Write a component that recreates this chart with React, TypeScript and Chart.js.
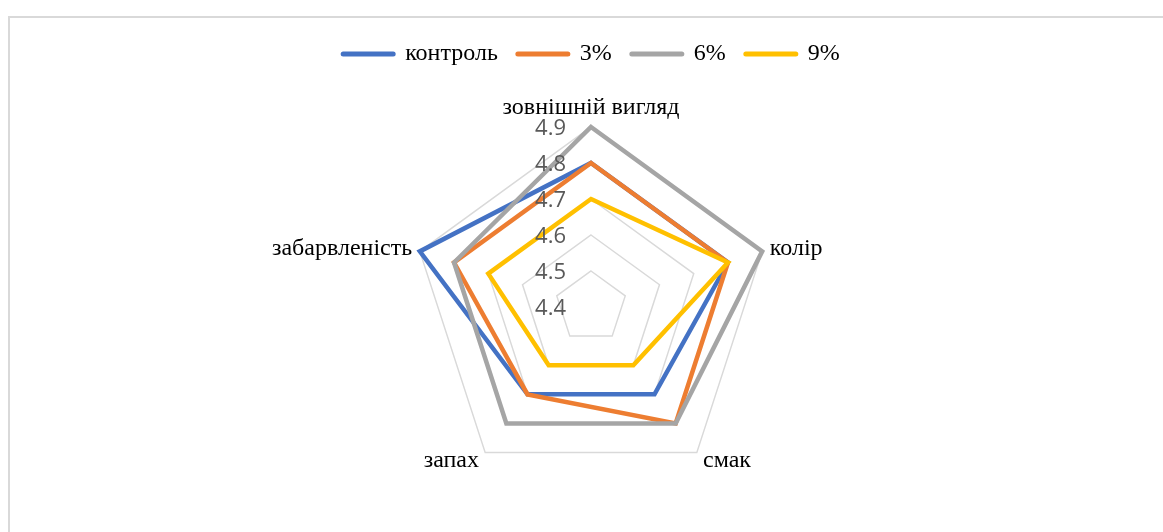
import React, { useEffect, useRef } from 'react';
import { Chart, registerables } from 'chart.js';

Chart.register(...registerables);

const CATEGORIES = ['зовнішній вигляд', 'колір', 'смак', 'запах', 'забарвленість'];
const SERIES_NAMES = ['контроль', '3%', '6%', '9%'];
const CONTROL = [4.8, 4.8, 4.7, 4.7, 4.9];
const P3 = [4.8, 4.8, 4.8, 4.7, 4.8];
const P6 = [4.9, 4.9, 4.8, 4.8, 4.8];
const P9 = [4.7, 4.8, 4.6, 4.6, 4.7];
const TICKS = [4.4, 4.5, 4.6, 4.7, 4.8, 4.9];
const COLORS = ['#4472C4', '#ED7D31', '#A5A5A5', '#FFC000'];

const SERIF = '"Liberation Serif", "Times New Roman", serif';
const SANS = '"Open Sans", "Liberation Sans", sans-serif';

const tickLabelPlugin = {
  id: 'tickLabelPlugin',
  afterDatasetsDraw(chart: any) {
    const s = chart.scales.r;
    const ctx = chart.ctx;
    ctx.save();
    ctx.font = `22px ${SANS}`;
    ctx.fillStyle = '#595959';
    ctx.textAlign = 'right';
    ctx.textBaseline = 'middle';
    TICKS.forEach((v) => {
      const d = s.getDistanceFromCenterForValue(v);
      ctx.fillText(v.toFixed(1), s.xCenter - 25, s.yCenter - d + 2);
    });
    ctx.restore();
  },
};

export default function App() {
  const ref = useRef<HTMLCanvasElement>(null);

  useEffect(() => {
    if (!ref.current) return;
    const seriesData = [CONTROL, P3, P6, P9];
    const chart = new Chart(ref.current, {
      type: 'radar',
      data: {
        labels: CATEGORIES,
        datasets: seriesData.map((d, i) => ({
          label: SERIES_NAMES[i],
          data: d,
          borderColor: COLORS[i],
          backgroundColor: COLORS[i],
          borderWidth: 4.5,
          fill: false,
          pointRadius: 0,
          pointHoverRadius: 0,
          pointBorderWidth: 5,
          pointBorderColor: COLORS[i],
          order: seriesData.length - i,
        })),
      },
      options: {
        responsive: false,
        animation: false,
        layout: { padding: { top: 22, bottom: 28, left: 20, right: 0 } },
        plugins: {
          tooltip: { enabled: false },
          legend: {
            position: 'top',
            labels: {
              usePointStyle: true,
              pointStyle: 'line',
              pointStyleWidth: 50,
              padding: 20,
              color: '#000',
              font: { family: SERIF, size: 24 },
              generateLabels: (c: any) =>
                Chart.defaults.plugins.legend.labels
                  .generateLabels(c)
                  .sort((a: any, b: any) => a.datasetIndex - b.datasetIndex)
                  .map((l: any) => ({ ...l, lineCap: 'round', lineWidth: 5, strokeStyle: COLORS[l.datasetIndex] })),
            },
          },
        },
        scales: {
          r: {
            min: TICKS[0],
            max: TICKS[TICKS.length - 1],
            ticks: { stepSize: 0.1, display: false },
            grid: { color: '#D9D9D9', lineWidth: 1.5, circular: false },
            angleLines: { display: false },
            pointLabels: {
              color: '#000',
              padding: (ctx: any) => [5, 8, 10.5, 10.5, 8][ctx.index],
              font: (ctx: any) => ({
                family: SERIF,
                size: 24,
                lineHeight: ctx.index === 0 ? '29px' : '0px',
              }),
            },
          },
        },
      },
      plugins: [tickLabelPlugin],
    });
    return () => chart.destroy();
  }, []);

  return (
    <div style={{ position: 'fixed', left: 0, top: 0, width: 1163, height: 532, overflow: 'hidden', background: '#fff' }}>
      <div
        style={{
          position: 'absolute',
          left: 8,
          top: 16,
          width: 1400,
          height: 800,
          borderLeft: '2px solid #D9D9D9',
          borderTop: '2px solid #D9D9D9',
          boxSizing: 'border-box',
        }}
      />
      <canvas ref={ref} width={1163} height={532} style={{ position: 'absolute', left: 0, top: 0, width: 1163, height: 532 }} />
    </div>
  );
}
